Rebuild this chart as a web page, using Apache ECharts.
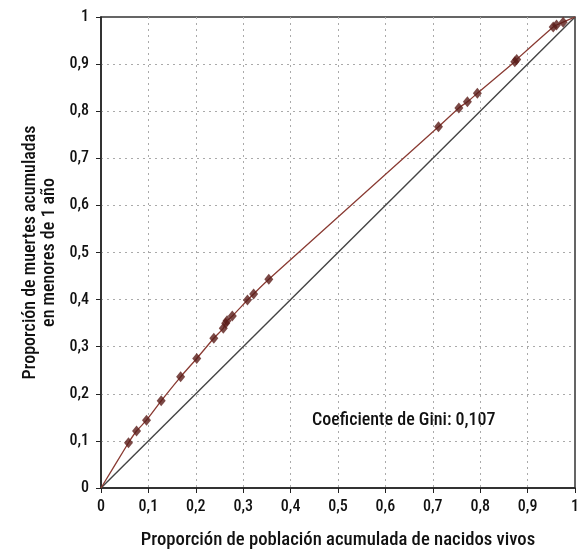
<!DOCTYPE html>
<html>
<head>
<meta charset="utf-8">
<script src="https://cdn.jsdelivr.net/npm/echarts@6/dist/echarts.min.js"></script>
<style>html,body{margin:0;padding:0;background:#fff;}#c{width:580px;height:549px;}</style>
</head>
<body>
<div id="c"></div>
<script>
// Data
var popAcum = [0, 0.058, 0.075, 0.096, 0.127, 0.168, 0.202, 0.238, 0.258, 0.263, 0.266, 0.277, 0.309, 0.322, 0.354, 0.712, 0.755, 0.773, 0.794, 0.873, 0.877, 0.954, 0.961, 0.975, 1];
var muertesAcum = [0, 0.096, 0.121, 0.144, 0.185, 0.236, 0.275, 0.318, 0.339, 0.350, 0.355, 0.365, 0.399, 0.412, 0.443, 0.767, 0.807, 0.820, 0.838, 0.905, 0.910, 0.979, 0.983, 0.989, 1];
var equidad = [[0, 0], [1, 1]];
var tickValues = [0, 0.1, 0.2, 0.3, 0.4, 0.5, 0.6, 0.7, 0.8, 0.9, 1];
var giniText = 'Coeficiente de Gini: 0,107';

var FONT = '"Roboto Condensed", "Liberation Sans Narrow", "Arial Narrow", Roboto, sans-serif';
var W = 500;
function fmt(v) {
  var r = Math.round(v * 10) / 10;
  return String(r).replace('.', ',');
}
var curve = popAcum.map(function (x, i) { return [x, muertesAcum[i]]; });
var markers = curve.slice(1, curve.length - 1);

var axisCommon = {
  type: 'value', min: 0, max: 1, interval: 0.1,
  axisLine: { show: true, lineStyle: { color: '#222', width: 1.5 } },
  axisTick: { show: true, inside: false, length: 5, lineStyle: { color: '#222' } },
  splitLine: { show: true, showMinLine: false, showMaxLine: false, lineStyle: { color: '#aaa', type: [2, 4], width: 1 } },
  axisLabel: { color: '#111', fontSize: 16, fontWeight: W, fontFamily: FONT, formatter: fmt }
};

var chart = echarts.init(document.getElementById('c'), null, { renderer: 'canvas' });
chart.setOption({
  animation: false,
  backgroundColor: '#fff',
  grid: { left: 101, right: 5, top: 17, bottom: 61, outerBoundsMode: 'none', containLabel: false, show: true, borderColor: '#333', borderWidth: 1.5 },
  xAxis: Object.assign({}, axisCommon, {
    name: 'Proporción de población acumulada de nacidos vivos',
    nameLocation: 'middle', nameGap: 43,
    nameTextStyle: { color: '#111', fontSize: 18.7, fontWeight: W, fontFamily: FONT },
    axisLabel: Object.assign({}, axisCommon.axisLabel, { margin: 11 })
  }),
  yAxis: Object.assign({}, axisCommon, {
    name: 'Proporción de muertes acumuladas\nen menores de 1 año',
    nameLocation: 'middle', nameGap: 37,
    nameTextStyle: { color: '#111', fontSize: 18, fontWeight: W, fontFamily: FONT, lineHeight: 19 },
    axisLabel: Object.assign({}, axisCommon.axisLabel, { margin: 12 })
  }),
  series: [
    {
      type: 'line', data: equidad, symbol: 'none',
      lineStyle: { color: '#444', width: 1.4 }, z: 2
    },
    {
      type: 'line', data: curve, symbol: 'none', smooth: 0.2,
      lineStyle: { color: '#8a3b33', width: 1.3 }, z: 3
    },
    {
      type: 'scatter', data: markers, symbol: 'diamond', symbolSize: [9, 11],
      itemStyle: { color: '#5a1c18' }, z: 4
    }
  ],
  graphic: [{
    type: 'text', left: 312, top: 411,
    style: { text: giniText, fill: '#111', fontSize: 18, fontWeight: W, fontFamily: FONT }
  }]
});
</script>
</body>
</html>
